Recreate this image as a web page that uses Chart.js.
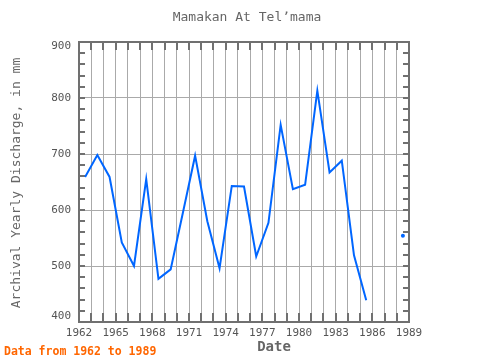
<!DOCTYPE html>
<html>
<head>
<meta charset="utf-8">
<script src="https://cdn.jsdelivr.net/npm/chart.js@4"></script>
<style>
  html, body { margin: 0; padding: 0; background: #fff; }
  canvas { display: block; }
</style>
</head>
<body>
<canvas id="chart" width="480" height="360"></canvas>
<script>
// yearly discharge, mm (1986-87 missing)
const years = [1962,1963,1964,1965,1966,1967,1968,1969,1970,1971,1972,1973,1974,
  1975,1976,1977,1978,1979,1980,1981,1982,1983,1984,1985,1986,1987,1988];
const discharge = [659,698,659,542,500,655,477,494,595,697,580,496,643,
  642,517,577,752,637,645,813,667,688,519,439,null,null,554];
const xLabelYears = [1962,1965,1968,1971,1974,1977,1980,1983,1986,1989];
const yTicks = [400,500,600,700,800,900];

const mono = '"DejaVu Sans Mono", monospace';

const frame = {
  id: 'frame',
  beforeDatasetsDraw(chart) {
    const {ctx, chartArea: a, scales: {x, y}} = chart;
    ctx.save();
    ctx.strokeStyle = '#707070';
    ctx.lineWidth = 2;
    ctx.beginPath();
    for (let v = 1962; v <= 1989; v++) {
      const px = Math.round(x.getPixelForValue(v));
      ctx.moveTo(px, a.top); ctx.lineTo(px, a.top + 8);
      ctx.moveTo(px, a.bottom); ctx.lineTo(px, a.bottom - 9);
    }
    for (let v = 400; v <= 900; v += 20) {
      const py = Math.round(y.getPixelForValue(v));
      ctx.moveTo(a.left, py); ctx.lineTo(a.left + 6, py);
      ctx.moveTo(a.right, py); ctx.lineTo(a.right - 6, py);
    }
    ctx.stroke();
    ctx.strokeRect(a.left, a.top, a.right - a.left, a.bottom - a.top);
    // y labels, end ones pulled inside like the original
    ctx.fillStyle = '#555';
    ctx.font = '11px ' + mono;
    ctx.textAlign = 'right';
    ctx.textBaseline = 'middle';
    yTicks.forEach(v => {
      let py = y.getPixelForValue(v);
      if (v === 900) py += 4;
      if (v === 400) py -= 6;
      ctx.fillText(String(v), a.left - 8, py);
    });
    ctx.restore();
  },
  afterDraw(chart) {
    const ctx = chart.ctx;
    ctx.save();
    ctx.textAlign = 'center';
    ctx.textBaseline = 'middle';
    ctx.fillStyle = '#666';
    ctx.font = '13px ' + mono;
    ctx.fillText('Mamakan At Telʼmama', 247, 18);
    ctx.font = 'bold 14px ' + mono;
    ctx.fillText('Date', 274, 347);
    ctx.font = '13px ' + mono;
    ctx.translate(17, 183);
    ctx.rotate(-Math.PI / 2);
    ctx.fillText('Archival Yearly Discharge, in mm', 0, 0);
    ctx.restore();
    ctx.save();
    ctx.textAlign = 'left';
    ctx.textBaseline = 'middle';
    ctx.fillStyle = '#ff6600';
    ctx.font = 'bold 11.5px ' + mono;
    ctx.fillText('Data from 1962 to 1989', 4, 352);
    ctx.restore();
  }
};

new Chart(document.getElementById('chart'), {
  type: 'line',
  data: {
    datasets: [{
      data: years.map((yr, i) => ({x: yr + 0.5, y: discharge[i]})),
      borderColor: '#0066ff',
      backgroundColor: '#0066ff',
      borderWidth: 2,
      tension: 0,
      spanGaps: false,
      pointRadius: years.map(yr => yr === 1988 ? 2 : 0),
      pointBorderWidth: 0
    }]
  },
  options: {
    responsive: false,
    animation: false,
    layout: {padding: {top: 42, right: 71, left: 0, bottom: 0}},
    plugins: {legend: {display: false}, tooltip: {enabled: false}},
    scales: {
      x: {
        type: 'linear',
        min: 1962, max: 1989,
        afterFit: s => { s.height = 38; },
        grid: {color: '#aaaaaa', lineWidth: 1, drawTicks: false},
        border: {display: false},
        ticks: {
          stepSize: 1, autoSkip: false, maxRotation: 0, padding: 5,
          color: '#555', font: {family: mono, size: 11},
          callback: v => xLabelYears.includes(v) ? String(v) : ''
        }
      },
      y: {
        min: 400, max: 900,
        afterFit: s => { s.width = 79; },
        afterBuildTicks: s => { s.ticks = yTicks.map(v => ({value: v})); },
        grid: {color: '#aaaaaa', lineWidth: 1, drawTicks: false},
        border: {display: false},
        ticks: {display: false}
      }
    }
  },
  plugins: [frame]
});
</script>
</body>
</html>
